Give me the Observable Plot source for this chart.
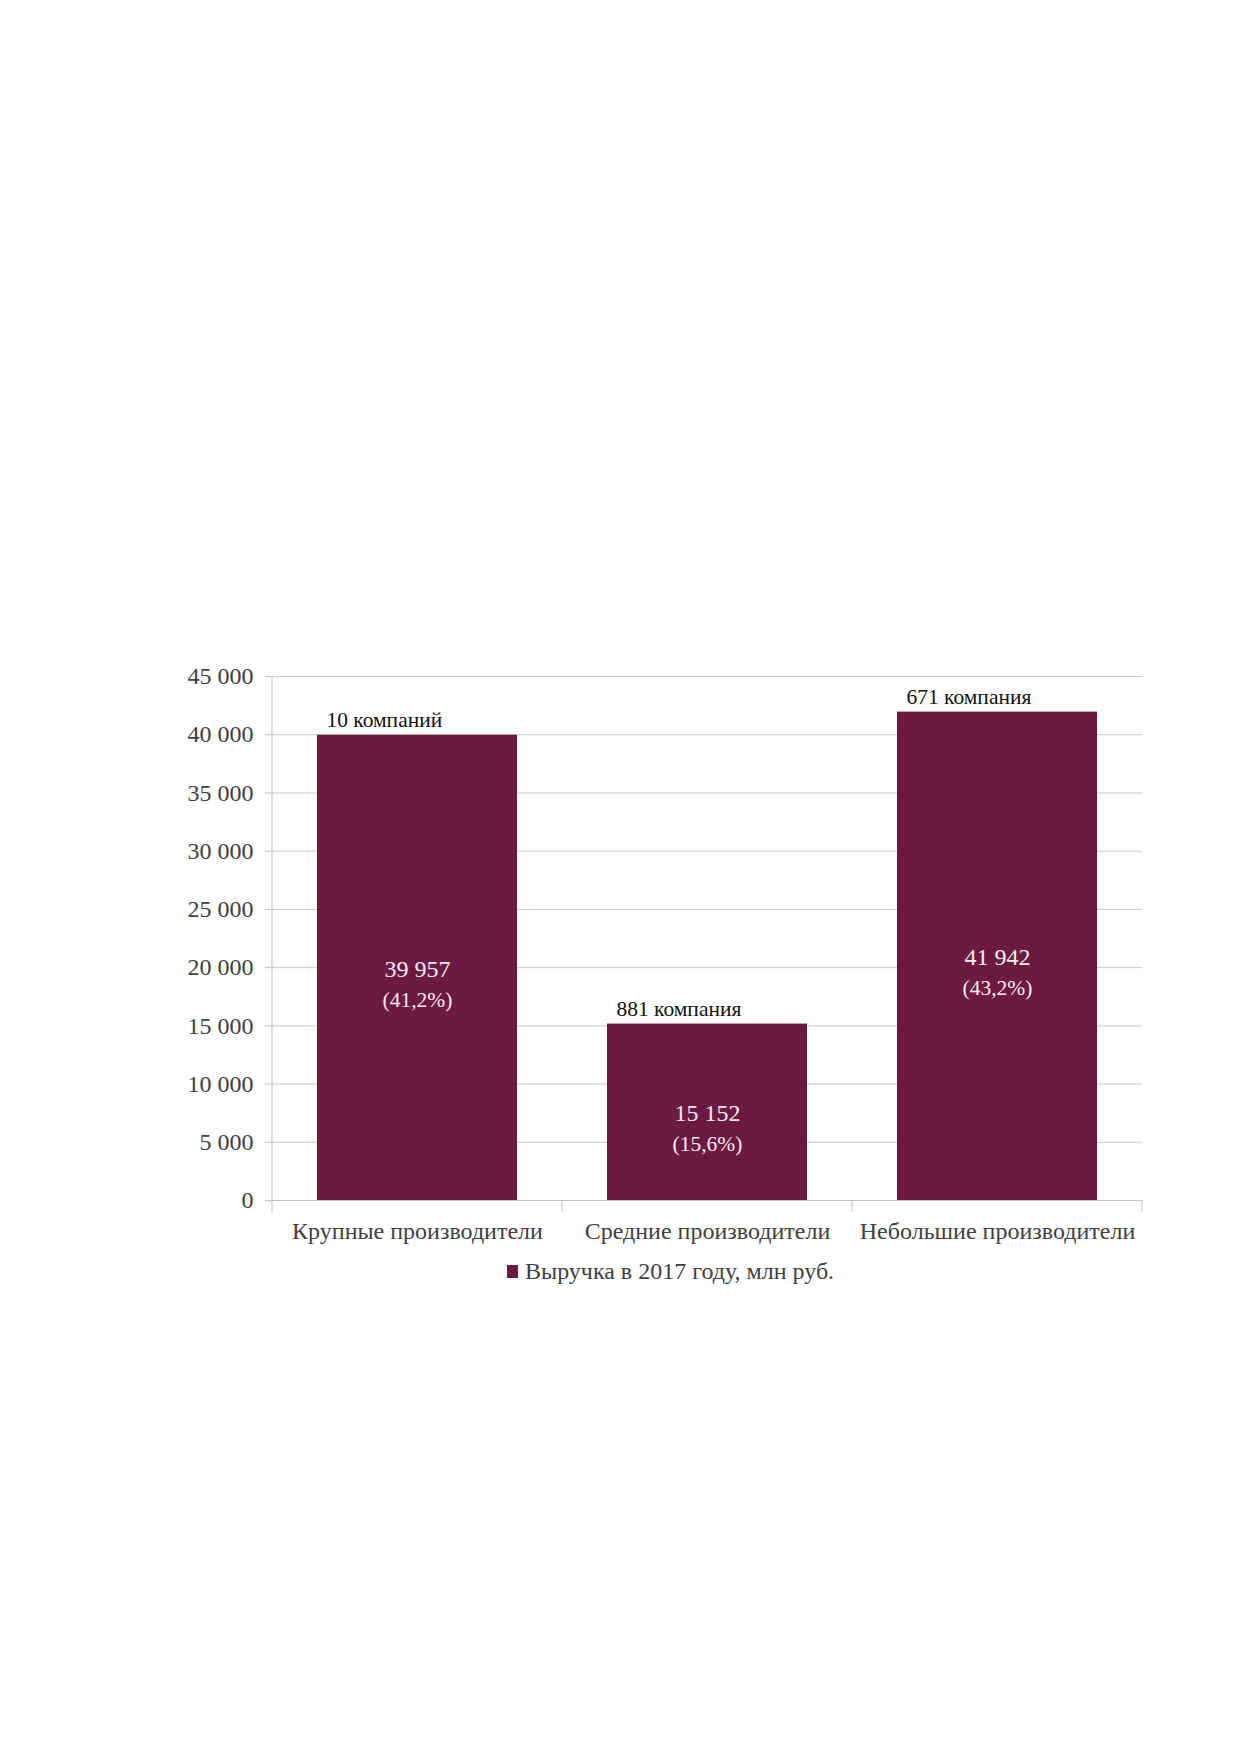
<!DOCTYPE html>
<html>
<head>
<meta charset="utf-8">
<script src="https://cdn.jsdelivr.net/npm/d3@7"></script>
<script src="https://cdn.jsdelivr.net/npm/@observablehq/plot@0.6"></script>
<style>
  body { margin: 0; background: #fff; }
  #chart svg { display: block; }
  .legend { font-family: "Liberation Serif", "Times New Roman", serif; font-size: 24px; color: #404040;
            display: flex; align-items: center; padding-left: 507px; height: 42px; }
  .legend .sw { width: 11px; height: 13px; background: #6d1a43; margin-right: 7px; }
</style>
</head>
<body>
<div id="chart"></div>
<script>
// ---- data ----
const categories = ["Крупные производители", "Средние производители", "Небольшие производители"];
const revenue = [39957, 15152, 41942];
const valueLabels = ["39 957", "15 152", "41 942"];
const shareLabels = ["(41,2%)", "(15,6%)", "(43,2%)"];
const companyLabels = ["10 компаний", "881 компания", "671 компания"];
const yTicks = [0, 5000, 10000, 15000, 20000, 25000, 30000, 35000, 40000, 45000];
const legendLabel = "Выручка в 2017 году, млн руб.";

const rows = categories.map((c, i) => ({
  cat: c, value: revenue[i], vLabel: valueLabels[i], sLabel: shareLabels[i], cLabel: companyLabels[i]
}));

const W = 1239, H = 1250;
const mL = 272, mR = 97, mT = 676, mB = 50;
const padInner = 0.31, padOuter = 0.155;
const step = (W - mL - mR) / (categories.length - padInner + 2 * padOuter);
const bandwidth = step * (1 - padInner);

const font = "Liberation Serif, Times New Roman, serif";
const fmt = d => d3.format(",")(d).replace(/,/g, " ");

// band boundary ticks + left axis line
const boundaryTicks = (index, scales, values, dims) => {
  const g = d3.create("svg:g").attr("stroke", "#bfbfbf").attr("stroke-width", 1);
  const x = scales.x;
  const st = x.step ? x.step() : step;
  const bw = x.bandwidth ? x.bandwidth() : bandwidth;
  const y0 = scales.y(0);
  const edges = categories.map(c => x(c) + bw / 2 - st / 2);
  edges.push(x(categories[categories.length - 1]) + bw / 2 + st / 2);
  edges.forEach(e => g.append("line").attr("x1", e).attr("x2", e).attr("y1", y0).attr("y2", y0 + 12));
  g.append("line").attr("x1", edges[0]).attr("x2", edges[0])
    .attr("y1", dims.marginTop).attr("y2", y0);
  return g.node();
};

const plot = Plot.plot({
  width: W,
  height: H,
  marginLeft: mL,
  marginRight: mR,
  marginTop: mT,
  marginBottom: mB,
  style: { fontFamily: font, background: "white" },
  x: { domain: categories, paddingInner: padInner, paddingOuter: padOuter, label: null },
  y: { domain: [0, 45000], label: null },
  marks: [
    Plot.gridY(yTicks, { stroke: "#c8c8c8", strokeOpacity: 1, strokeWidth: 1 }),
    Plot.axisY(yTicks, { tickFormat: fmt, tickSize: 7, tickPadding: 12, fontSize: 24, fill: "#404040",
                        stroke: "#bfbfbf", label: null }),
    Plot.axisX({ tickSize: 0, tickPadding: 21, fontSize: 24, fill: "#404040", label: null }),
    Plot.ruleY([0], { stroke: "#bfbfbf" }),
    boundaryTicks,
    Plot.barY(rows, { x: "cat", y: "value", fill: "#6d1a43" }),
    Plot.text(rows, { x: "cat", y: d => d.value / 2, text: "vLabel", fill: "#f4eef1", fontSize: 24, dy: 1 }),
    Plot.text(rows, { x: "cat", y: d => d.value / 2, text: "sLabel", fill: "#f4eef1", fontSize: 21.5, dy: 32 }),
    Plot.text(rows, { x: "cat", y: "value", text: "cLabel", fill: "#111", fontSize: 21.5,
                      textAnchor: "start", lineAnchor: "bottom", dx: -bandwidth / 2 + 9, dy: -8 })
  ]
});

document.getElementById("chart").appendChild(plot);

const leg = document.createElement("div");
leg.className = "legend";
leg.innerHTML = '<span class="sw"></span><span></span>';
leg.lastChild.textContent = legendLabel;
document.body.appendChild(leg);
</script>
</body>
</html>
